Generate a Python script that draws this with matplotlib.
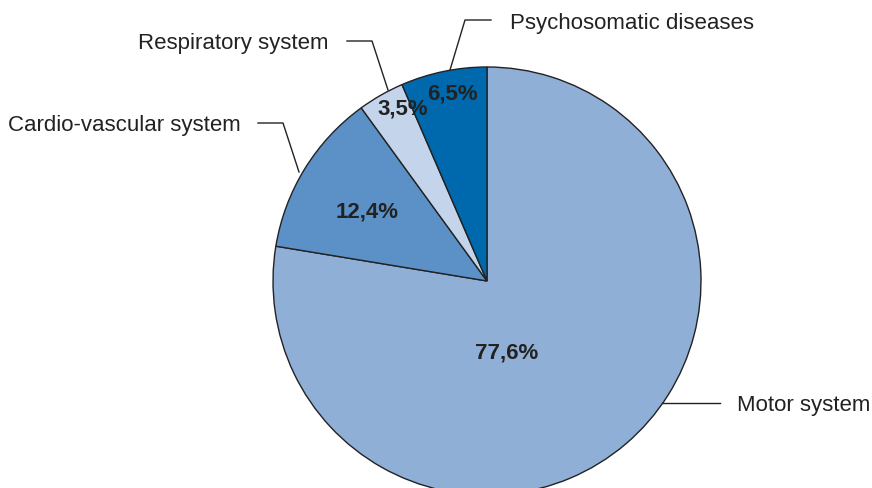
import matplotlib
matplotlib.use("Agg")
import matplotlib.pyplot as plt

categories = ["Motor system", "Cardio-vascular system", "Respiratory system", "Psychosomatic diseases"]
values = [77.6, 12.4, 3.5, 6.5]
pct_labels = ["77,6%", "12,4%", "3,5%", "6,5%"]
colors = ["#8FAFD6", "#5B91C6", "#C4D4EA", "#0068AD"]

plt.rcParams['font.family'] = ['Liberation Sans', 'DejaVu Sans']

W, H = 872, 488
fig = plt.figure(figsize=(W / 100, H / 100), dpi=100)
ax = fig.add_axes([0, 0, 1, 1])

cx, cy, r = 487, H - 281, 214
wedges, _ = ax.pie(values, colors=colors, startangle=90, counterclock=False,
                   center=(cx, cy), radius=r, frame=True,
                   wedgeprops=dict(edgecolor="#222222", linewidth=1.0))
ax.set_xlim(0, W)
ax.set_ylim(0, H)
ax.set_aspect('equal')
ax.axis('off')

# percentage labels (image coords -> data)
pct_pos = [(507, 353), (367, 212), (403, 109), (452, 94)]
for (x, y), t in zip(pct_pos, pct_labels):
    ax.text(x, H - y, t, ha='center', va='center', fontsize=16, fontweight='bold', color="#222222")

# leader lines (image coords)
leaders = [
    [(662, 403), (720, 403)],
    [(299, 172), (283, 123), (258, 123)],
    [(388, 90), (372, 41), (347, 41)],
    [(450, 70), (465, 20), (491, 20)],
]
for pts in leaders:
    xs = [p[0] for p in pts]
    ys = [H - p[1] for p in pts]
    ax.plot(xs, ys, color="#222222", lw=1.0)

text_pos = [(737, 405, 'left'), (241, 126, 'right'), (328, 44, 'right'), (510, 23, 'left')]
for (x, y, ha), t in zip(text_pos, categories):
    ax.text(x, H - y, t, ha=ha, va='center', fontsize=16, color="#222222")

fig.savefig("out.png", dpi=100)
